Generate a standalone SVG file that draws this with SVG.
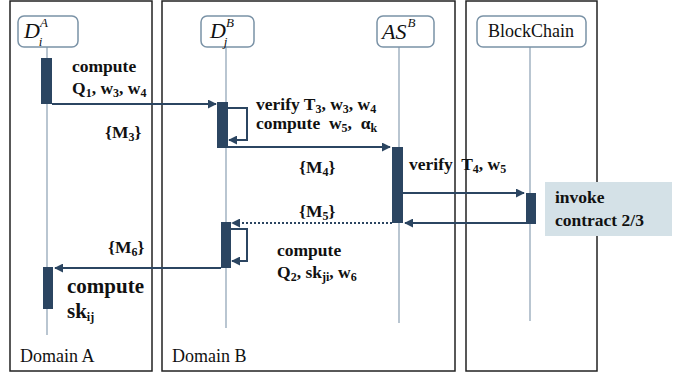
<svg xmlns="http://www.w3.org/2000/svg" width="684" height="375" viewBox="0 0 684 375">
  <defs>
    <marker id="arrow" viewBox="0 0 10 10" refX="9" refY="5" markerWidth="4.5" markerHeight="4.5" orient="auto-start-reverse" markerUnits="strokeWidth">
      <path d="M0,0 L10,5 L0,10 z" fill="#2b4561"/>
    </marker>
  </defs>
  <style>
    text { font-family: 'Liberation Serif', 'DejaVu Serif', 'Times New Roman', serif; fill: #111; }
    .panel { fill: none; stroke: #222; stroke-width: 1.5; }
    .head { fill: #fff; stroke: #7a92a6; stroke-width: 1.5; }
    .life { stroke: #8a9fb2; stroke-width: 1.2; fill: none; }
    .bar { fill: #2b4561; }
    .msg { stroke: #2b4561; stroke-width: 2; fill: none; marker-end: url(#arrow); }
    .dot { stroke-dasharray: 2 2; }
    .lbl { font-weight: bold; font-size: 17.5px; }
    .big { font-size: 21px; }
    .nm { font-style: italic; font-size: 22px; }
    .sup { font-size: 13px; }
    .plain { font-size: 18px; }
    .sb { font-size: 12px; }
  </style>

  <!-- swimlane panels -->
  <rect class="panel" x="10" y="1" width="142" height="370"/>
  <rect class="panel" x="162" y="1" width="293" height="370"/>
  <rect class="panel" x="466" y="1" width="131" height="370"/>
  <text class="plain" x="20" y="362">Domain A</text>
  <text class="plain" x="172" y="362">Domain B</text>

  <!-- participant D_i^A -->
  <g id="node-di">
    <line class="life" x1="47" y1="47" x2="47" y2="335"/>
    <rect class="head" x="18" y="16" width="60" height="31" rx="6"/>
    <text class="nm" x="24" y="38">D<tspan class="sup" dy="-11">A</tspan><tspan class="sup" dx="-9" dy="19">i</tspan></text>
    <rect class="bar" x="41" y="58" width="11" height="46"/>
    <rect class="bar" x="43" y="267" width="10" height="42"/>
  </g>

  <!-- participant D_j^B -->
  <g id="node-dj">
    <line class="life" x1="226" y1="47" x2="226" y2="328"/>
    <rect class="head" x="201" y="16" width="53" height="31" rx="6"/>
    <text class="nm" x="210" y="38">D<tspan class="sup" dy="-11">B</tspan><tspan class="sup" dx="-10" dy="19">j</tspan></text>
    <rect class="bar" x="217" y="102" width="11" height="46"/>
    <rect class="bar" x="221" y="222" width="10" height="46"/>
  </g>

  <!-- participant AS^B -->
  <g id="node-as">
    <line class="life" x1="399" y1="47" x2="399" y2="323"/>
    <rect class="head" x="377" y="16" width="57" height="31" rx="6"/>
    <text class="nm" x="382" y="39">AS<tspan class="sup" dx="1" dy="-12">B</tspan></text>
    <rect class="bar" x="392" y="147" width="11" height="76"/>
  </g>

  <!-- participant BlockChain -->
  <g id="node-bc">
    <line class="life" x1="530" y1="47" x2="530" y2="321"/>
    <rect class="head" x="477" y="16" width="109" height="31" rx="6"/>
    <text class="plain" x="531" y="37" text-anchor="middle" font-size="20">BlockChain</text>
    <rect class="bar" x="526" y="193" width="10" height="31"/>
  </g>

  <!-- contract note -->
  <g id="note-contract">
    <rect x="545" y="182" width="127" height="54" fill="#d4e1e7"/>
    <text class="lbl" x="555" y="203">invoke</text>
    <text class="lbl" x="555" y="226">contract 2/3</text>
  </g>

  <!-- messages -->
  <g id="connectors">
    <path class="msg" d="M52,104 H216"/>
    <path class="msg" d="M228,108 H247 V140 H229"/>
    <path class="msg" d="M228,147 H390"/>
    <path class="msg" d="M403,193 H524"/>
    <path class="msg" d="M526,223 H405"/>
    <path class="msg dot" d="M392,223 H232"/>
    <path class="msg" d="M231,229 H247 V261 H232"/>
    <path class="msg" d="M221,268 H55"/>
  </g>

  <!-- message labels -->
  <g id="labels">
    <text class="lbl" x="72" y="72">compute</text>
    <text class="lbl" x="72" y="94">Q<tspan class="sb" dy="3">1</tspan><tspan dy="-3">, w</tspan><tspan class="sb" dy="3">3</tspan><tspan dy="-3">, w</tspan><tspan class="sb" dy="3">4</tspan></text>
    <text class="lbl" x="105" y="138">{M<tspan class="sb" dy="3">3</tspan><tspan dy="-3">}</tspan></text>
    <text class="lbl" x="256" y="110">verify T<tspan class="sb" dy="3">3</tspan><tspan dy="-3">, w</tspan><tspan class="sb" dy="3">3</tspan><tspan dy="-3">, w</tspan><tspan class="sb" dy="3">4</tspan></text>
    <text class="lbl" x="256" y="129" xml:space="preserve">compute  w<tspan class="sb" dy="3">5</tspan><tspan dy="-3">,  α</tspan><tspan class="sb" dy="3">k</tspan></text>
    <text class="lbl" x="299" y="173">{M<tspan class="sb" dy="3">4</tspan><tspan dy="-3">}</tspan></text>
    <text class="lbl" x="409" y="170" xml:space="preserve">verify  T<tspan class="sb" dy="3">4</tspan><tspan dy="-3">, w</tspan><tspan class="sb" dy="3">5</tspan></text>
    <text class="lbl" x="299" y="217">{M<tspan class="sb" dy="3">5</tspan><tspan dy="-3">}</tspan></text>
    <text class="lbl" x="277" y="256">compute</text>
    <text class="lbl" x="277" y="278">Q<tspan class="sb" dy="3">2</tspan><tspan dy="-3">, sk</tspan><tspan class="sb" dy="3">ji</tspan><tspan dy="-3">, w</tspan><tspan class="sb" dy="3">6</tspan></text>
    <text class="lbl" x="108" y="253">{M<tspan class="sb" dy="3">6</tspan><tspan dy="-3">}</tspan></text>
    <text class="lbl big" x="67" y="293">compute</text>
    <text class="lbl big" x="67" y="318">sk<tspan class="sb" font-size="14" dy="3">ij</tspan></text>
  </g>
</svg>
